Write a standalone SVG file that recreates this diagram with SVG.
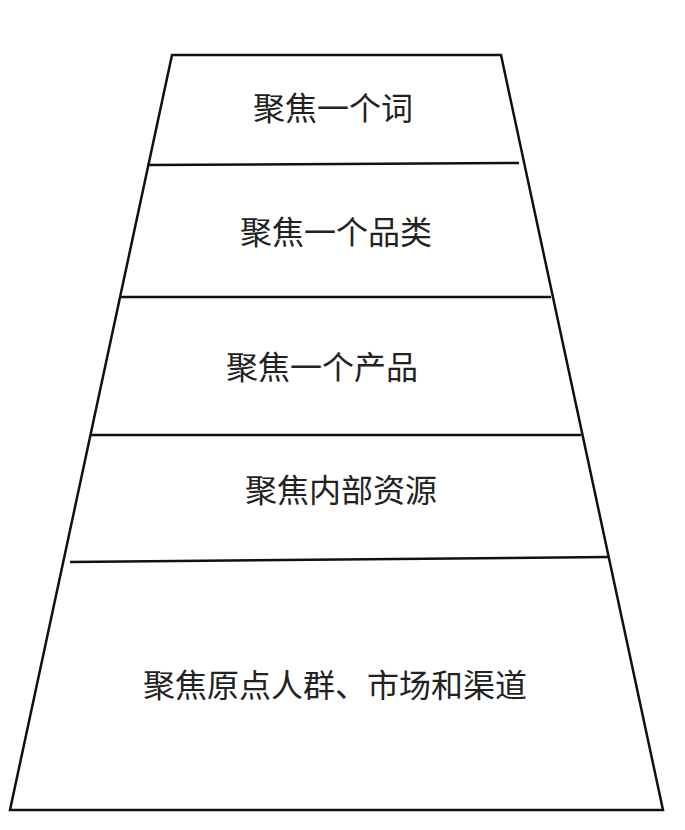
<svg xmlns="http://www.w3.org/2000/svg" width="685" height="830" viewBox="0 0 685 830">
<style>
.l{stroke:#111;stroke-width:2.5;fill:none}
text{font-family:"Noto Sans CJK SC",sans-serif;font-size:32px;fill:#222;text-anchor:middle}
</style>
<rect width="685" height="830" fill="#fff"/>
<g id="frame"><path class="l" d="M172,55 L501,55 L663,810 L10,810 Z"/></g>
<g id="connectors">
<line class="l" x1="147" y1="165" x2="519" y2="163"/>
<line class="l" x1="121" y1="297" x2="551" y2="297"/>
<line class="l" x1="91" y1="435" x2="581" y2="435"/>
<line class="l" x1="70" y1="562" x2="608" y2="557"/>
</g>
<g id="n1"><text x="333" y="120">聚焦一个词</text></g>
<g id="n2"><text x="336" y="244">聚焦一个品类</text></g>
<g id="n3"><text x="322" y="379">聚焦一个产品</text></g>
<g id="n4"><text x="341" y="502">聚焦内部资源</text></g>
<g id="n5"><text x="335" y="697">聚焦原点人群、市场和渠道</text></g>
</svg>
